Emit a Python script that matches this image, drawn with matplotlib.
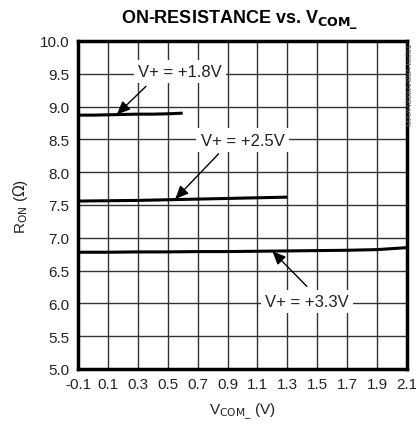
import matplotlib
matplotlib.use("Agg")
import matplotlib.pyplot as plt
import numpy as np

# data
x18 = [-0.1, 0.0, 0.1, 0.2, 0.3, 0.4, 0.5, 0.6]
y18 = [8.87, 8.87, 8.875, 8.88, 8.885, 8.885, 8.89, 8.90]
x25 = [-0.1, 0.1, 0.3, 0.5, 0.7, 0.9, 1.1, 1.3]
y25 = [7.56, 7.565, 7.57, 7.58, 7.59, 7.60, 7.61, 7.62]
x33 = [-0.1, 0.1, 0.3, 0.5, 0.7, 0.9, 1.1, 1.3, 1.5, 1.7, 1.9, 2.1]
y33 = [6.78, 6.78, 6.785, 6.785, 6.79, 6.79, 6.795, 6.80, 6.805, 6.81, 6.82, 6.85]
xticks = [-0.1, 0.1, 0.3, 0.5, 0.7, 0.9, 1.1, 1.3, 1.5, 1.7, 1.9, 2.1]
yticks = [5.0, 5.5, 6.0, 6.5, 7.0, 7.5, 8.0, 8.5, 9.0, 9.5, 10.0]
labels = ["V+ = +1.8V", "V+ = +2.5V", "V+ = +3.3V"]

fam = ['Liberation Sans Narrow', 'Liberation Sans', 'DejaVu Sans']
plt.rcParams['font.family'] = fam

fig = plt.figure(figsize=(4.16, 4.35), dpi=100)
ax = fig.add_axes([78/416, 1-370/435, 329/416, 328/435])

ax.set_xlim(-0.1, 2.1)
ax.set_ylim(5.0, 10.0)
ax.set_xticks(xticks)
ax.set_xticklabels([f"{v:.1f}" for v in xticks])
ax.set_yticks(yticks)
ax.set_yticklabels([f"{v:.1f}" for v in yticks])
ax.tick_params(length=0, labelsize=11, pad=6, colors='#222222')
ax.grid(True, color='#333333', lw=1.0)
ax.set_axisbelow(True)
for s in ax.spines.values():
    s.set_linewidth(2.5)
    s.set_color('black')

for xs, ys in [(x18, y18), (x25, y25), (x33, y33)]:
    ax.plot(xs, ys, color='black', lw=2.2, solid_capstyle='butt', zorder=3)

bbox = dict(boxstyle='square,pad=0.25', fc='white', ec='none')
arrow = dict(arrowstyle='-|>,head_length=0.8,head_width=0.35', color='black', lw=1.0,
             shrinkA=0, shrinkB=0)
ann = [((0.58, 9.53), (0.355, 9.31), (0.16, 8.88)),
       ((1.00, 8.49), (0.84, 8.28), (0.55, 7.59)),
       ((1.43, 6.03), (1.43, 6.26), (1.20, 6.795))]
for lab, (tp, tail, tip) in zip(labels, ann):
    ax.text(tp[0], tp[1], lab, ha='center', va='center', fontsize=12, color='#222222',
            bbox=bbox, zorder=4)
    ax.annotate('', xy=tip, xytext=tail, arrowprops=arrow, zorder=4)

fig.text(240/416, 1-20/435, r"ON-RESISTANCE vs. V$_{\mathbf{COM\_}}$", ha='center', va='center',
         fontsize=13, fontweight='bold')
fig.text(242/416, 1-412/435, r"V$_{\mathrm{COM\_}}$ (V)", ha='center', va='center',
         fontsize=11, color='#222222')
fig.text(20/416, 1-206/435, r"R$_{\mathrm{ON}}$ ($\Omega$)", ha='center', va='center',
         rotation=90, fontsize=11, color='#222222')
fig.text(411/416, 1-44/435, "MAX4888A/89A toc01", ha='center', va='top', rotation=90,
         fontsize=6, color='#555555')

fig.savefig("out.png", dpi=100)
